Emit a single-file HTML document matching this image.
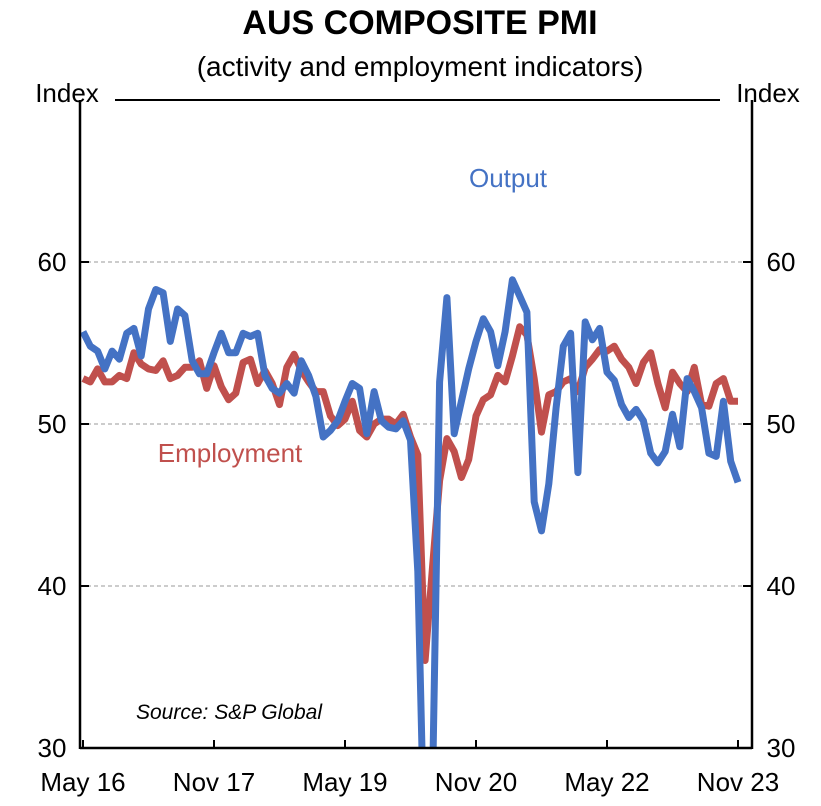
<!DOCTYPE html>
<html><head><meta charset="utf-8"><style>
html,body{margin:0;padding:0;background:#fff;width:821px;height:806px;overflow:hidden}
svg{display:block;font-family:"Liberation Sans",Arial,sans-serif}
</style></head><body>
<svg id="chart" width="821" height="806" viewBox="0 0 821 806" xmlns="http://www.w3.org/2000/svg">
<defs><clipPath id="plotclip"><rect x="80" y="100" width="672" height="648"/></clipPath></defs>
<text x="420" y="34" text-anchor="middle" font-size="34" font-weight="bold">AUS COMPOSITE PMI</text>
<text x="420" y="76" text-anchor="middle" font-size="28">(activity and employment indicators)</text>
<text x="67" y="102" text-anchor="middle" font-size="26">Index</text>
<text x="768" y="102" text-anchor="middle" font-size="26">Index</text>
<line x1="115" y1="100" x2="720" y2="100" stroke="#000" stroke-width="2"/>
<g id="grid"></g>
<g id="series" clip-path="url(#plotclip)"></g>
<g id="axes"></g>
<text x="508" y="187" text-anchor="middle" font-size="26" fill="#4472C4">Output</text>
<text x="230" y="462" text-anchor="middle" font-size="26" fill="#C0504D">Employment</text>
<text x="229" y="719" text-anchor="middle" font-size="21" font-style="italic">Source: S&amp;P Global</text>
</svg>
<script>
const yTicks = [30, 40, 50, 60];
const xTickLabels = ["May 16", "Nov 17", "May 19", "Nov 20", "May 22", "Nov 23"];
const xTickIndex = [0, 18, 36, 54, 72, 90];
const outputValues = [55.7,54.8,54.5,53.4,54.5,54.0,55.6,55.9,54.2,57.1,58.3,58.1,55.1,57.1,56.7,53.9,53.1,53.1,54.4,55.6,54.4,54.4,55.6,55.4,55.6,53.0,52.2,51.9,52.5,51.9,53.9,53.0,51.7,49.2,49.6,50.2,51.4,52.5,52.2,49.4,52.0,50.2,49.8,49.7,50.2,49.0,40.9,21.7,26.9,52.6,57.8,49.4,51.4,53.4,55.1,56.5,55.7,53.6,55.7,58.9,57.9,56.9,45.2,43.4,46.3,51.0,54.8,55.6,47.0,56.3,55.2,55.9,53.2,52.7,51.2,50.4,50.9,50.2,48.2,47.6,48.3,50.6,48.6,52.8,52.0,51.0,48.2,48.0,51.4,47.7,46.4];
const employmentValues = [52.8,52.6,53.4,52.6,52.6,53.0,52.8,54.4,53.7,53.4,53.3,53.9,52.8,53.0,53.5,53.5,53.9,52.2,53.6,52.3,51.5,51.9,53.8,54.0,52.5,53.3,52.5,51.2,53.5,54.3,53.3,52.6,52.0,52.0,50.5,49.9,50.3,51.4,49.6,49.2,50.0,50.3,50.3,50.0,50.6,49.2,48.1,35.4,41.0,46.5,49.1,48.3,46.7,47.8,50.5,51.5,51.8,53.0,52.6,54.2,56.0,55.5,52.8,49.5,51.8,52.0,52.6,52.8,52.0,53.5,54.0,54.6,54.5,54.8,54.0,53.5,52.5,53.8,54.4,52.5,51.0,53.2,52.5,52.0,53.5,51.2,51.1,52.5,52.8,51.4,51.4];

const NS = "http://www.w3.org/2000/svg";
const L = 80, R = 752, T = 100, B = 748, yMin = 30, yMax = 70;
const x0 = 83, x1 = 738, nMax = 90;
function xScale(i){ return x0 + (x1 - x0) * i / nMax; }
function yScale(v){ return B - (v - yMin) * (B - T) / (yMax - yMin); }
function mk(tag, attrs, parent){ const e = document.createElementNS(NS, tag); for (const k in attrs) e.setAttribute(k, attrs[k]); parent.appendChild(e); return e; }

const grid = document.getElementById("grid");
const axes = document.getElementById("axes");
const series = document.getElementById("series");

yTicks.forEach(v => {
  const y = yScale(v);
  if (v > yMin) {
    const g = mk("line", {x1:L, x2:R, y1:y, y2:y, stroke:"#999", "stroke-width":1, "stroke-dasharray":"4,3"}, grid);
    
    
    const tl = mk("line", {x1:L, x2:L+9, y1:y, y2:y, stroke:"#000", "stroke-width":2}, axes);
    
    
    const tr = mk("line", {x1:R-9, x2:R, y1:y, y2:y, stroke:"#000", "stroke-width":2}, axes);
    
    
  }
  const lt = mk("text", {x:52, y:y+9, "text-anchor":"middle", "font-size":26}, axes);
  lt.textContent = v;
  
  
  const rt = mk("text", {x:781, y:y+9, "text-anchor":"middle", "font-size":26}, axes);
  rt.textContent = v;
  
  
});

xTickIndex.forEach((idx, k) => {
  const x = xScale(idx);
  const t = mk("line", {x1:x, x2:x, y1:B-8, y2:B, stroke:"#000", "stroke-width":2}, axes);
  
  
  const lab = mk("text", {x:x, y:791, "text-anchor":"middle", "font-size":26}, axes);
  lab.textContent = xTickLabels[k];
  
  
});

const la = mk("line", {x1:L, x2:L, y1:T, y2:B+1, stroke:"#000", "stroke-width":2.5}, axes);


const ra = mk("line", {x1:R, x2:R, y1:T, y2:B+1, stroke:"#000", "stroke-width":2.5}, axes);


const ba = mk("line", {x1:L, x2:R, y1:B, y2:B, stroke:"#000", "stroke-width":2.5}, axes);



function pathFor(vals){ return vals.map((v,i)=> (i?"L":"M") + xScale(i).toFixed(1) + "," + yScale(v).toFixed(1)).join(" "); }
const emp = mk("path", {d:pathFor(employmentValues), fill:"none", stroke:"#C0504D", "stroke-width":7, "stroke-linejoin":"round"}, series);


const out = mk("path", {d:pathFor(outputValues), fill:"none", stroke:"#4472C4", "stroke-width":7, "stroke-linejoin":"round"}, series);


</script>
</body></html>
